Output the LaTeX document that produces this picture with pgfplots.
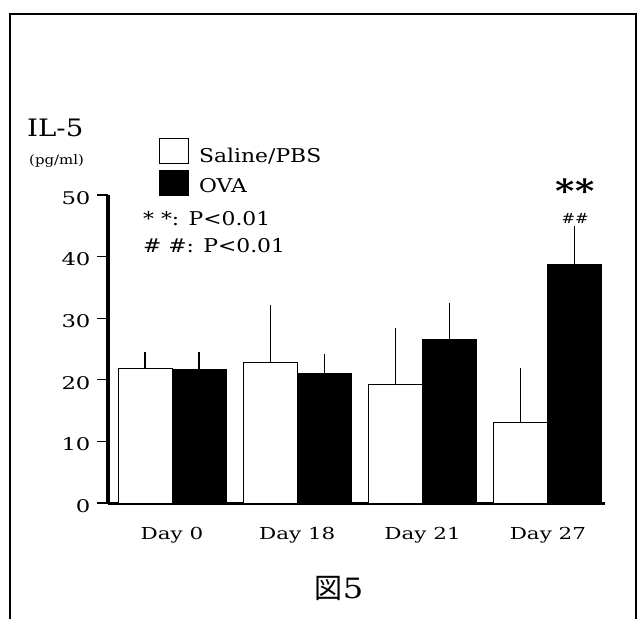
\documentclass[border=0pt]{standalone}
\usepackage{pgfplots}
\pgfplotsset{compat=1.18}
\usepackage{pgfplotstable}
\usepackage{fontspec}
\setmainfont{DejaVu Serif}[FakeStretch=1.15]
\newfontfamily\tickfont{DejaVu Serif}[FakeStretch=1.3]
\newfontfamily\cjk{Noto Sans CJK JP}

% IL-5 (pg/ml): mean and upper error
\pgfplotstableread{
x saline salerr ova ovaerr
0 21.8 1.9 21.7 2.0
1 22.8 8.6 21.0 2.4
2 19.2 8.4 26.5 5.2
3 13.0 8.1 38.7 5.4
}\ilfive

\begin{document}
\begin{tikzpicture}[x=1pt,y=1pt]
\useasboundingbox (0,0) rectangle (644,618);
\draw[line width=2.4pt] (10,-20) -- (10,604) -- (636,604) -- (636,-20);
\begin{axis}[
  at={(108pt,115pt)}, anchor=south west,
  scale only axis, width=497pt, height=308pt,
  xmin=-0.511, xmax=3.456, ymin=0, ymax=50,
  ybar=0pt, bar width=54pt,
  axis x line*=bottom, axis y line*=left,
  x axis line style={line width=3pt},
  y axis line style={line width=3.5pt},
  ytick={0,10,...,50},
  xtick={0,1,2,3}, xticklabels={Day 0, Day 18, Day 21, Day 27},
  tick align=outside, major tick length=11pt,
  y tick style={line width=1.2pt, black},
  x tick style={draw=none},
  /pgf/number format/assume math mode=true,
  yticklabel style={font=\tickfont\fontsize{17.5}{20}\selectfont, yshift=-3pt, xshift=-3pt},
  xticklabel style={font=\tickfont\fontsize{16.5}{18}\selectfont, anchor=base, yshift=-25pt},
  clip=false,
  legend style={at={(rel axis cs:0.1026,1.185)}, anchor=north west, draw=none, fill=none,
    inner sep=0pt, row sep=6pt, font=\fontsize{19}{22}\selectfont,
    nodes={inner sep=0pt, anchor=base west}},
]
\addplot[fill=white, draw=black, line width=1pt,
  legend image code/.code={\draw[fill=white,draw=black,line width=1pt] (0pt,-1pt) rectangle (29pt,24pt); \path (39pt,0pt);},
  error bars/.cd, y dir=plus, y explicit,
  error bar style={line width=1.2pt, black},
  error mark options={line width=1.2pt, mark size=5pt, black}]
  table[x=x, y=saline, y error=salerr]{\ilfive};
\addlegendentry{Saline/PBS}
\addplot[fill=black, draw=black, line width=1pt,
  legend image code/.code={\draw[fill=black,draw=black,line width=1pt] (0pt,-3pt) rectangle (29pt,22pt); \path (39pt,0pt);},
  error bars/.cd, y dir=plus, y explicit,
  error bar style={line width=1.2pt, black},
  error mark options={line width=1.2pt, mark size=5pt, black}]
  table[x=x, y=ova, y error=ovaerr]{\ilfive};
\addlegendentry{OVA}
\end{axis}
\node[anchor=base west, inner sep=0pt, font=\fontsize{24}{28}\selectfont] at (27,481) {IL-5};
\node[anchor=base west, inner sep=0pt, font=\fontsize{13}{15}\selectfont] at (29,453) {(pg/ml)};
\node[anchor=base west, inner sep=0pt, font=\fontsize{19}{22}\selectfont] at (143,392) {* *: P<0.01};
\node[anchor=base west, inner sep=0pt, font=\fontsize{19}{22}\selectfont] at (143,365) {\# \#: P<0.01};
\node[anchor=base, inner sep=0pt, text depth=0pt, font=\bfseries\fontsize{32}{34}\selectfont] at (575,415) {**};
\node[anchor=base, inner sep=0pt, text height=0.72em, text depth=0pt, font=\fontsize{14}{16}\selectfont] at (575,394) {\#\#};
\node[anchor=base, inner sep=0pt, font=\fontsize{28}{30}\selectfont] at (339,20) {{\cjk 図}5};
\end{tikzpicture}
\end{document}
